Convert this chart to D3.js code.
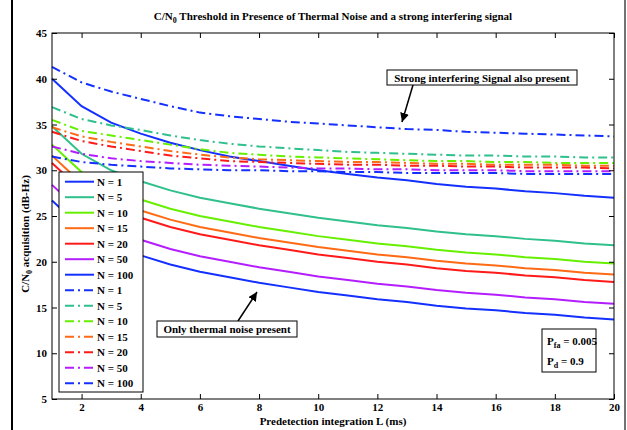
<!DOCTYPE html>
<html>
<head>
<meta charset="utf-8">
<script src="https://cdn.jsdelivr.net/npm/d3@7"></script>
<style>
  body { margin: 0; background: #fff; }
  svg text { font-family: "Liberation Serif", "Times New Roman", serif; font-weight: bold; }
</style>
</head>
<body>
<svg id="chart" width="627" height="430"></svg>
<script>
// predetection integration L (ms)
const L = [1, 2, 3, 4, 5, 6, 7, 8, 9, 10, 11, 12, 13, 14, 15, 16, 17, 18, 19, 20];
const nLabels = ['N = 1', 'N = 5', 'N = 10', 'N = 15', 'N = 20', 'N = 50', 'N = 100'];
const colors = ['#1430ff', '#2fc08c', '#66f000', '#ff6a14', '#ff1a1a', '#b41eff', '#1430ff'];

// only thermal noise (solid)
const thermal1 = [40.0, 37.0, 35.2, 34.0, 33.0, 32.2, 31.5, 31.0, 30.5, 30.0, 29.6, 29.2, 28.9, 28.5, 28.2, 28.0, 27.7, 27.5, 27.2, 27.0];
const thermal5 = [34.8, 31.8, 30.0, 28.8, 27.8, 27.0, 26.4, 25.8, 25.3, 24.8, 24.4, 24.0, 23.7, 23.3, 23.0, 22.8, 22.5, 22.3, 22.0, 21.8];
const thermal10 = [32.8, 29.8, 28.0, 26.8, 25.8, 25.0, 24.4, 23.8, 23.3, 22.8, 22.4, 22.0, 21.7, 21.3, 21.0, 20.8, 20.5, 20.3, 20.0, 19.8];
const thermal15 = [31.6, 28.6, 26.8, 25.6, 24.6, 23.8, 23.2, 22.6, 22.1, 21.6, 21.2, 20.8, 20.5, 20.1, 19.8, 19.6, 19.3, 19.1, 18.8, 18.6];
const thermal20 = [30.8, 27.8, 26.0, 24.8, 23.8, 23.0, 22.4, 21.8, 21.3, 20.8, 20.4, 20.0, 19.7, 19.3, 19.0, 18.8, 18.5, 18.3, 18.0, 17.8];
const thermal50 = [28.4, 25.4, 23.6, 22.4, 21.4, 20.6, 20.0, 19.4, 18.9, 18.4, 18.0, 17.6, 17.3, 16.9, 16.6, 16.4, 16.1, 15.9, 15.6, 15.4];
const thermal100 = [26.7, 23.7, 21.9, 20.7, 19.7, 18.9, 18.3, 17.7, 17.2, 16.7, 16.3, 15.9, 15.6, 15.2, 14.9, 14.7, 14.4, 14.2, 13.9, 13.7];

// strong interfering signal also present (dash-dot)
const interf1 = [41.3, 39.6, 38.6, 37.8, 37.0, 36.3, 35.9, 35.6, 35.3, 35.1, 34.9, 34.7, 34.5, 34.4, 34.2, 34.1, 34.0, 33.9, 33.8, 33.7];
const interf5 = [36.9, 35.6, 34.9, 34.4, 33.8, 33.3, 32.9, 32.6, 32.4, 32.2, 32.0, 31.9, 31.8, 31.7, 31.6, 31.6, 31.5, 31.5, 31.4, 31.4];
const interf10 = [35.5, 34.3, 33.8, 33.3, 32.8, 32.3, 31.9, 31.7, 31.5, 31.4, 31.3, 31.2, 31.1, 31.0, 31.0, 30.9, 30.9, 30.8, 30.8, 30.8];
const interf15 = [34.7, 33.7, 33.1, 32.6, 32.1, 31.7, 31.4, 31.2, 31.1, 31.0, 30.9, 30.9, 30.8, 30.7, 30.7, 30.6, 30.6, 30.6, 30.5, 30.5];
const interf20 = [34.2, 33.2, 32.6, 32.1, 31.6, 31.3, 31.0, 30.9, 30.8, 30.7, 30.6, 30.6, 30.5, 30.5, 30.4, 30.4, 30.3, 30.3, 30.3, 30.2];
const interf50 = [32.6, 31.8, 31.3, 31.0, 30.8, 30.6, 30.5, 30.4, 30.3, 30.2, 30.2, 30.1, 30.1, 30.0, 30.0, 30.0, 29.9, 29.9, 29.9, 29.9];
const interf100 = [31.5, 30.9, 30.6, 30.4, 30.2, 30.1, 30.0, 30.0, 29.9, 29.9, 29.8, 29.8, 29.7, 29.7, 29.7, 29.7, 29.6, 29.6, 29.6, 29.6];

const xTicks = [2, 4, 6, 8, 10, 12, 14, 16, 18, 20];
const yTicks = [5, 10, 15, 20, 25, 30, 35, 40, 45];

const thermal = [thermal1, thermal5, thermal10, thermal15, thermal20, thermal50, thermal100];
const interf = [interf1, interf5, interf10, interf15, interf20, interf50, interf100];

const svg = d3.select('#chart');
const plotLeft = 52, plotRight = 614, plotTop = 33, plotBottom = 399;

// figure border lines
svg.append('line').attr('x1', 12).attr('x2', 12).attr('y1', 0).attr('y2', 430).attr('stroke', '#000').attr('stroke-width', 2);
svg.append('line').attr('x1', 625).attr('x2', 625).attr('y1', 0).attr('y2', 430).attr('stroke', '#444').attr('stroke-width', 1.5);

const x = d3.scaleLinear().domain([1, 20]).range([plotLeft, plotRight]);
const y = d3.scaleLinear().domain([5, 45]).range([plotBottom, plotTop]);

const line = d3.line().x((d, i) => x(L[i])).y((d) => y(d));

// curves
const series = [];
thermal.forEach((s, i) => series.push({ values: s, color: colors[i], dash: null, label: nLabels[i] }));
interf.forEach((s, i) => series.push({ values: s, color: colors[i], dash: '9,4,2,4', label: nLabels[i] }));

svg.append('g')
  .selectAll('path')
  .data(series)
  .join('path')
  .attr('d', (d) => line(d.values))
  .attr('fill', 'none')
  .attr('stroke', (d) => d.color)
  .attr('stroke-width', 2)
  .attr('stroke-dasharray', (d) => d.dash);

// axes (ticks inside, mirrored on top and right)
const fmt = d3.format('d');
const gx = svg.append('g').attr('transform', `translate(0,${plotBottom})`)
  .call(d3.axisBottom(x).tickValues(xTicks).tickSizeInner(-5).tickSizeOuter(0).tickPadding(4).tickFormat(fmt));
const gxTop = svg.append('g').attr('transform', `translate(0,${plotTop})`)
  .call(d3.axisTop(x).tickValues(xTicks).tickSizeInner(-5).tickSizeOuter(0).tickFormat(''));
const gy = svg.append('g').attr('transform', `translate(${plotLeft},0)`)
  .call(d3.axisLeft(y).tickValues(yTicks).tickSizeInner(-5).tickSizeOuter(0).tickPadding(5).tickFormat(fmt));
const gyRight = svg.append('g').attr('transform', `translate(${plotRight},0)`)
  .call(d3.axisRight(y).tickValues(yTicks).tickSizeInner(-5).tickSizeOuter(0).tickFormat(''));

[gx, gxTop, gy, gyRight].forEach((g) => {
  g.select('.domain').remove();
  g.selectAll('line').attr('stroke', '#000');
  g.selectAll('text').attr('fill', '#000').style('font-size', '11px').style('font-family', '"Liberation Serif", serif').style('font-weight', 'bold');
});

svg.append('rect').attr('x', plotLeft).attr('y', plotTop).attr('width', plotRight - plotLeft).attr('height', plotBottom - plotTop)
  .attr('fill', 'none').attr('stroke', '#000').attr('stroke-width', 1);

// title and axis labels
const title = svg.append('text').attr('x', 333).attr('y', 20).attr('text-anchor', 'middle').style('font-size', '11px');
title.append('tspan').text('C/N');
title.append('tspan').attr('dy', 3).style('font-size', '8px').text('0');
title.append('tspan').attr('dy', -3).text(' Threshold in Presence of Thermal Noise and a strong interfering signal');

svg.append('text').attr('x', 333).attr('y', 425).attr('text-anchor', 'middle').style('font-size', '11px')
  .text('Predetection integration L (ms)');

const ylab = svg.append('text').attr('transform', 'translate(29,234) rotate(-90)').attr('text-anchor', 'middle').style('font-size', '11px');
ylab.append('tspan').text('C/N');
ylab.append('tspan').attr('dy', 3).style('font-size', '8px').text('0');
ylab.append('tspan').attr('dy', -3).text(' acquisition (dB-Hz)');

// legend
const legend = svg.append('g');
legend.append('rect').attr('x', 59).attr('y', 172).attr('width', 84).attr('height', 220)
  .attr('fill', '#fff').attr('stroke', '#000').attr('stroke-width', 1);
const item = legend.selectAll('g.item').data(series).join('g').attr('class', 'item')
  .attr('transform', (d, i) => `translate(0,${181.7 + i * 15.5})`);
item.append('line').attr('x1', 65).attr('x2', 94).attr('y1', 0).attr('y2', 0)
  .attr('stroke', (d) => d.color).attr('stroke-width', 2).attr('stroke-dasharray', (d) => d.dash);
item.append('text').attr('x', 97).attr('y', 4).style('font-size', '11px').text((d) => d.label);

// annotations
svg.append('defs').append('marker').attr('id', 'arr').attr('viewBox', '0 0 10 10').attr('refX', 10).attr('refY', 5)
  .attr('markerWidth', 9).attr('markerHeight', 9).attr('markerUnits', 'userSpaceOnUse').attr('orient', 'auto')
  .append('path').attr('d', 'M0,0L10,5L0,10z').attr('fill', '#000');

function note(bx, by, bw, bh, txt, x1, y1, x2, y2) {
  svg.append('line').attr('x1', x1).attr('y1', y1).attr('x2', x2).attr('y2', y2)
    .attr('stroke', '#000').attr('stroke-width', 1.5).attr('marker-end', 'url(#arr)');
  svg.append('rect').attr('x', bx).attr('y', by).attr('width', bw).attr('height', bh)
    .attr('fill', '#fff').attr('stroke', '#000').attr('stroke-width', 1);
  svg.append('text').attr('x', bx + bw / 2).attr('y', by + bh / 2 + 4).attr('text-anchor', 'middle')
    .style('font-size', '11px').text(txt);
}
note(387, 70, 190, 15, 'Strong interfering Signal also present', 413, 85, 402, 122);
note(157, 321, 140, 16, 'Only thermal noise present', 238, 321, 257, 292);

// Pfa / Pd box
svg.append('rect').attr('x', 542).attr('y', 329).attr('width', 54).attr('height', 43)
  .attr('fill', '#fff').attr('stroke', '#000').attr('stroke-width', 1);
const p1 = svg.append('text').attr('x', 547).attr('y', 345).style('font-size', '11px');
p1.append('tspan').text('P');
p1.append('tspan').attr('dy', 3).style('font-size', '8px').text('fa');
p1.append('tspan').attr('dy', -3).text(' = 0.005');
const p2 = svg.append('text').attr('x', 547).attr('y', 365).style('font-size', '11px');
p2.append('tspan').text('P');
p2.append('tspan').attr('dy', 3).style('font-size', '8px').text('d');
p2.append('tspan').attr('dy', -3).text(' = 0.9');
</script>
</body>
</html>
